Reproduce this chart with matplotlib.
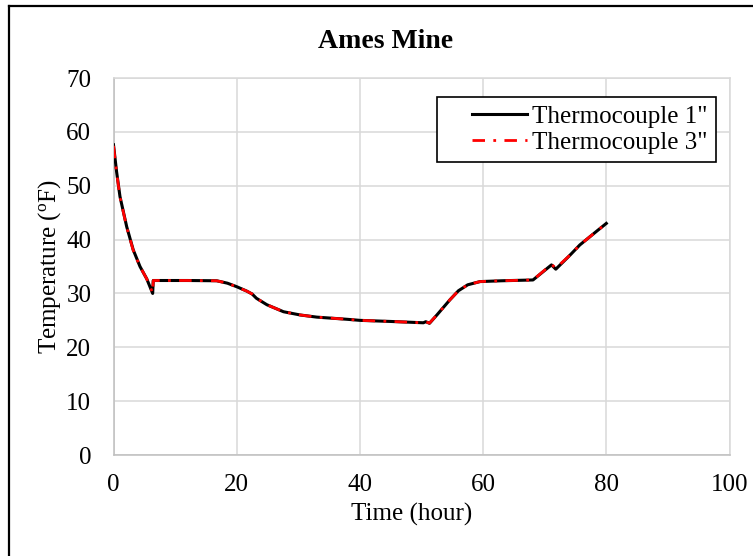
import matplotlib
matplotlib.use("Agg")
import matplotlib.pyplot as plt
from matplotlib.lines import Line2D
from matplotlib.legend_handler import HandlerLine2D

plt.rcParams["font.family"] = ["Liberation Serif", "DejaVu Serif"]
plt.rcParams["mathtext.fontset"] = "custom"
plt.rcParams["mathtext.rm"] = "Liberation Serif"

# ─── data ───
time_h = [0, 0.5, 1.05, 2.14, 3.2, 4.3, 5.4, 6.36, 6.45, 7.5, 12, 16.75, 18.5,
          20, 21.6, 22.5, 23.2, 24.9, 27.6, 30.3, 33, 37.9, 40, 44.9, 50.3,
          50.7, 51.3, 52.5, 54.6, 56, 57.5, 59.5, 63, 68.1, 71.1, 71.8, 74.1,
          75.7, 78.7, 80]
tc1 = [57.6, 52.6, 48.0, 42.4, 38.1, 35.0, 32.7, 30.0, 32.4, 32.4, 32.4, 32.35,
       31.9, 31.25, 30.45, 29.9, 29.1, 27.9, 26.6, 26.0, 25.6, 25.2, 25.0, 24.8,
       24.55, 24.75, 24.45, 26.0, 28.8, 30.5, 31.6, 32.2, 32.35, 32.5, 35.3,
       34.5, 37.1, 39.0, 41.8, 43.0]
tc3 = [57.4, 52.5, 47.9, 42.3, 38.0, 35.0, 32.7, 30.1, 32.4, 32.4, 32.4, 32.35,
       31.9, 31.2, 30.45, 29.9, 29.1, 27.9, 26.6, 26.0, 25.6, 25.2, 25.0, 24.8,
       24.55, 24.7, 24.5, 26.0, 28.8, 30.5, 31.6, 32.2, 32.35, 32.5, 35.4,
       34.7, 37.1, 39.0, 41.8, 43.0]

GRID = "#d9d9d9"

fig = plt.figure(figsize=(7.53, 5.56), dpi=100, facecolor="white")
ax = fig.add_axes([113.5 / 753, 1 - 455 / 556, 616 / 753, 377 / 556])

ax.plot(time_h, tc1, color="black", lw=2.2, label='Thermocouple 1"', zorder=3)
ax.plot(time_h, tc3, color="red", lw=2.0, ls=(0, (4.5, 3, 1, 3)),
        label='Thermocouple 3"', zorder=4)

ax.set_xlim(0, 100)
ax.set_ylim(0, 70)
ax.set_xticks(range(0, 101, 20))
ax.set_yticks(range(0, 71, 10))
ax.grid(True, color=GRID, lw=1.1)
ax.set_axisbelow(True)
for sp in ax.spines.values():
    sp.set_color(GRID)
    sp.set_linewidth(1.1)
ax.spines["left"].set_color("#bfbfbf")
ax.spines["bottom"].set_color("#bfbfbf")
ax.tick_params(length=0, labelsize=18, colors="black")
ax.tick_params(axis="y", pad=16)
ax.tick_params(axis="x", pad=14)

ax.set_xlabel("Time (hour)", fontsize=18)
ax.xaxis.set_label_coords((412 - 113.5) / 616, -0.128)
ax.set_ylabel(r"Temperature ($\mathregular{^{o}}$F)", fontsize=18, labelpad=2)

fig.text(386 / 753, 1 - 42 / 556, "Ames Mine", fontsize=20, fontweight="bold",
         ha="center", va="center")

leg = ax.legend(loc="upper right", bbox_to_anchor=(0.978, 0.950), fontsize=18,
                frameon=True, fancybox=False, framealpha=1, edgecolor="black",
                handlelength=3.25, handletextpad=0.2, labelspacing=0.12,
                borderpad=0.35, borderaxespad=0,
                handler_map={Line2D: HandlerLine2D(xpad=1.05)})
leg.get_frame().set_linewidth(1.2)

# chart-area border (cropped on the right and bottom)
fig.add_artist(Line2D([8.7 / 753, 8.7 / 753], [0, 1 - 6 / 556], color="black", lw=1.6))
fig.add_artist(Line2D([8.7 / 753, 1], [1 - 6 / 556, 1 - 6 / 556], color="black", lw=1.6))

fig.savefig("out.png", dpi=100, facecolor="white")
